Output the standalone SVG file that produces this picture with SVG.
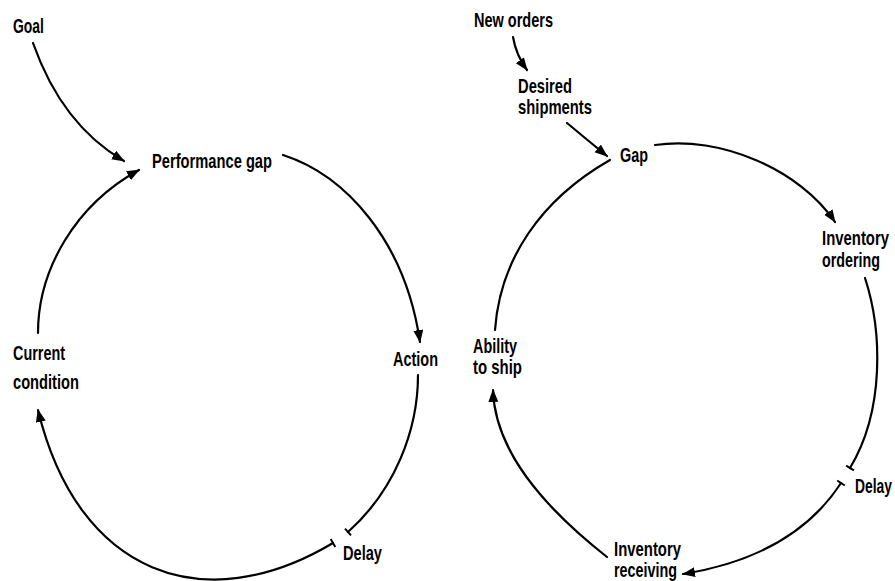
<svg xmlns="http://www.w3.org/2000/svg" width="895" height="581" viewBox="0 0 895 581">
<style>
text{font-family:"Liberation Sans",Arial,sans-serif;font-weight:bold;font-size:15px;fill:#000;}
.c{fill:none;stroke:#000;stroke-width:2.2;stroke-linecap:round;}
.a{marker-end:url(#ah);}
.t{fill:none;stroke:#000;stroke-width:2;stroke-linecap:butt;}
</style>
<defs>
<marker id="ah" markerUnits="userSpaceOnUse" markerWidth="14" markerHeight="12" refX="12" refY="5" orient="auto">
<path d="M0,0 L13,5 L0,10 z" fill="#000"/>
</marker>
</defs>
<rect width="895" height="581" fill="#fff"/>
<g id="connectors">
<path class="c a" d="M33,43 Q62,125 124,161"/>
<path class="c a" d="M38,333 C38,270 75,205 139,170"/>
<path class="c a" d="M283,155 C345,175 405,240 420,342"/>
<path class="c" d="M418,375 C418,430 395,490 348,532"/>
<line class="t" x1="345" y1="528.6" x2="351" y2="535.4"/>
<path class="c a" d="M333,543 C204,620 78,575 38,410"/>
<line class="t" x1="330.7" y1="539.1" x2="335.3" y2="546.9"/>
<path class="c a" d="M513,37 Q516,55 527,70"/>
<path class="c a" d="M567,123 Q585,138 607,156"/>
<path class="c a" d="M655,145 C720,135 800,170 835,222"/>
<path class="c" d="M865,278 C882,330 885,410 850,468"/>
<line class="t" x1="846.1" y1="465.7" x2="853.9" y2="470.3"/>
<path class="c a" d="M841,483 C815,523 770,560 683,574"/>
<line class="t" x1="837.2" y1="480.5" x2="844.8" y2="485.5"/>
<path class="c a" d="M607,557 C560,520 495,460 493,390"/>
<path class="c" d="M495,330 C500,260 540,200 610,160"/>
</g>
<g id="goal"><text transform="translate(13,33) scale(1,1.4)" textLength="31" lengthAdjust="spacingAndGlyphs">Goal</text></g>
<g id="performance-gap"><text transform="translate(152,168) scale(1,1.4)" textLength="120" lengthAdjust="spacingAndGlyphs">Performance gap</text></g>
<g id="action"><text transform="translate(393,366) scale(1,1.4)" textLength="45" lengthAdjust="spacingAndGlyphs">Action</text></g>
<g id="current-condition"><text transform="translate(13,360) scale(1,1.4)" textLength="52" lengthAdjust="spacingAndGlyphs">Current</text><text transform="translate(13,389) scale(1,1.4)" textLength="66" lengthAdjust="spacingAndGlyphs">condition</text></g>
<g id="delay-left"><text transform="translate(343,560) scale(1,1.4)" textLength="39" lengthAdjust="spacingAndGlyphs">Delay</text></g>
<g id="new-orders"><text transform="translate(474,27) scale(1,1.4)" textLength="79" lengthAdjust="spacingAndGlyphs">New orders</text></g>
<g id="desired-shipments"><text transform="translate(518,93) scale(1,1.4)" textLength="54" lengthAdjust="spacingAndGlyphs">Desired</text><text transform="translate(518,114) scale(1,1.4)" textLength="74" lengthAdjust="spacingAndGlyphs">shipments</text></g>
<g id="gap"><text transform="translate(620,162) scale(1,1.4)" textLength="28" lengthAdjust="spacingAndGlyphs">Gap</text></g>
<g id="inventory-ordering"><text transform="translate(822,245) scale(1,1.4)" textLength="67" lengthAdjust="spacingAndGlyphs">Inventory</text><text transform="translate(822,267) scale(1,1.4)" textLength="58" lengthAdjust="spacingAndGlyphs">ordering</text></g>
<g id="ability-to-ship"><text transform="translate(473,353) scale(1,1.4)" textLength="44" lengthAdjust="spacingAndGlyphs">Ability</text><text transform="translate(473,374) scale(1,1.4)" textLength="49" lengthAdjust="spacingAndGlyphs">to ship</text></g>
<g id="delay-right"><text transform="translate(855,493) scale(1,1.4)" textLength="37" lengthAdjust="spacingAndGlyphs">Delay</text></g>
<g id="inventory-receiving"><text transform="translate(614,556) scale(1,1.4)" textLength="67" lengthAdjust="spacingAndGlyphs">Inventory</text><text transform="translate(614,577) scale(1,1.4)" textLength="63" lengthAdjust="spacingAndGlyphs">receiving</text></g>
</svg>
